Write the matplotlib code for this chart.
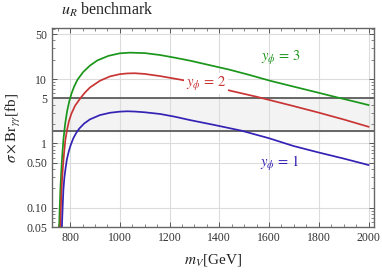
import numpy as np
import matplotlib
matplotlib.use("Agg")
import matplotlib.pyplot as plt
from matplotlib.ticker import FixedLocator, FixedFormatter, MultipleLocator

plt.rcParams['font.family'] = ['Liberation Serif', 'DejaVu Serif']
plt.rcParams['mathtext.fontset'] = 'stix'

# ---- data ----
m_green = [756, 757.5, 759, 761, 764, 768, 773, 780, 788, 797, 806, 816, 830, 853, 880,
           910, 954, 1000, 1041, 1100, 1162, 1220, 1282, 1350, 1440, 1520, 1604, 1700, 1800,
           1872, 1950, 2000]
v_green = [0.05, 0.08, 0.12, 0.2, 0.34, 0.62, 1.13, 2.0, 3.16, 4.57, 6.0, 7.6, 9.8, 12.9, 16.2,
           19.5, 22.9, 25.1, 25.7, 25.3, 23.6, 21.5, 19.3, 16.8, 14.0, 11.6, 9.4, 7.6, 6.1,
           5.2, 4.4, 3.94]

m_red = [761, 762.5, 764.5, 767, 771, 776, 781, 787, 795, 805, 820, 843, 860, 880, 920, 961,
         1000, 1028, 1060, 1100, 1162, 1242, 1350, 1450, 1550, 1698, 1800, 1900, 2000]
v_red = [0.05, 0.09, 0.15, 0.24, 0.42, 0.72, 1.13, 1.57, 2.19, 2.88, 3.85, 5.13, 6.17, 7.4, 9.4, 11.0,
         11.9, 12.2, 12.3, 12.0, 11.1, 9.8, 8.1, 6.5, 5.3, 3.8, 3.0, 2.35, 1.81]

m_blue = [767, 769, 771, 773, 777, 782, 787, 795, 803, 813, 825, 837, 857, 880, 920, 961, 1000,
          1030, 1060, 1100, 1162, 1220, 1282, 1380, 1490, 1600, 1698, 1800, 1900, 2000]
v_blue = [0.05, 0.08, 0.125, 0.188, 0.295, 0.417, 0.562, 0.76, 0.955, 1.2, 1.46, 1.7, 2.04, 2.36, 2.75,
          2.99, 3.11, 3.15, 3.12, 3.04, 2.86, 2.6, 2.3, 1.93, 1.57, 1.2, 0.91, 0.72, 0.58, 0.46]

band_low, band_high = 1.55, 5.15

labels = [r'$y_\phi\,=\,3$', r'$y_\phi\,=\,2$', r'$y_\phi\,=\,1$']
label_pos = [(1648, 21.2), (1347, 8.5), (1644, 0.49)]

yticks = [0.05, 0.1, 0.5, 1, 5, 10, 50]
ytick_labels = ['0.05', '0.10', '0.50', '1', '5', '10', '50']
xticks = [800, 1000, 1200, 1400, 1600, 1800, 2000]

green, red, blue = '#1a961a', '#c93535', '#3322b4'

fig = plt.figure(figsize=(3.82, 2.75), dpi=100)
ax = fig.add_axes([0.136, 0.1745, 0.843, 0.7235])
ax.set_yscale('log')
ax.set_xlim(727, 2022)
ax.set_ylim(0.05, 62)

ax.axhspan(band_low, band_high, color='#f3f3f3', zorder=0.5)
ax.axhline(band_low, color='#666666', lw=1.4, zorder=1.5)
ax.axhline(band_high, color='#666666', lw=1.4, zorder=1.5)

ax.plot(m_green, v_green, color=green, lw=1.25, zorder=2, solid_joinstyle='round')
ax.plot(m_red, v_red, color=red, lw=1.25, zorder=2, solid_joinstyle='round')
ax.plot(m_blue, v_blue, color=blue, lw=1.25, zorder=2, solid_joinstyle='round')

for (lx, ly), lab, col in zip(label_pos, labels, [green, red, blue]):
    t = ax.text(lx, ly, lab, color=col, fontsize=10.5, ha='center', va='center', zorder=3)
    if col == red:
        t.set_bbox(dict(facecolor='white', edgecolor='none', pad=1.0))

ax.yaxis.set_major_locator(FixedLocator(yticks))
ax.yaxis.set_major_formatter(FixedFormatter(ytick_labels))
minor_y = [v * 10.0**e for e in range(-2, 2) for v in range(1, 10)]
minor_y = [v for v in minor_y if v not in yticks]
ax.yaxis.set_minor_locator(FixedLocator(minor_y))
ax.yaxis.set_minor_formatter(FixedFormatter([''] * len(minor_y)))
ax.xaxis.set_major_locator(FixedLocator(xticks))
ax.xaxis.set_minor_locator(MultipleLocator(50))

ax.grid(True, which='major', color='#dcdcdc', lw=0.8, zorder=0)
ax.set_axisbelow(True)
ax.tick_params(which='both', direction='in', top=True, right=True, colors='#555555',
               labelcolor='#333333', labelsize=8.5)
ax.tick_params(which='major', length=3.5, width=0.7)
ax.tick_params(which='minor', length=2, width=0.5)
for s in ax.spines.values():
    s.set_color('#666666')
    s.set_linewidth(1.0)

ax.set_xlabel(r'$m_V$[GeV]', fontsize=11, color='#222222', labelpad=6)
ax.set_ylabel(r'$\sigma\times\mathrm{Br}_{\gamma\gamma}$[fb]', fontsize=11, color='#222222', labelpad=2)
fig.text(0.28, 0.962, r'$u_R$ benchmark', fontsize=11.5, ha='center', va='center', color='#222222')

fig.savefig('out.png', dpi=100)
